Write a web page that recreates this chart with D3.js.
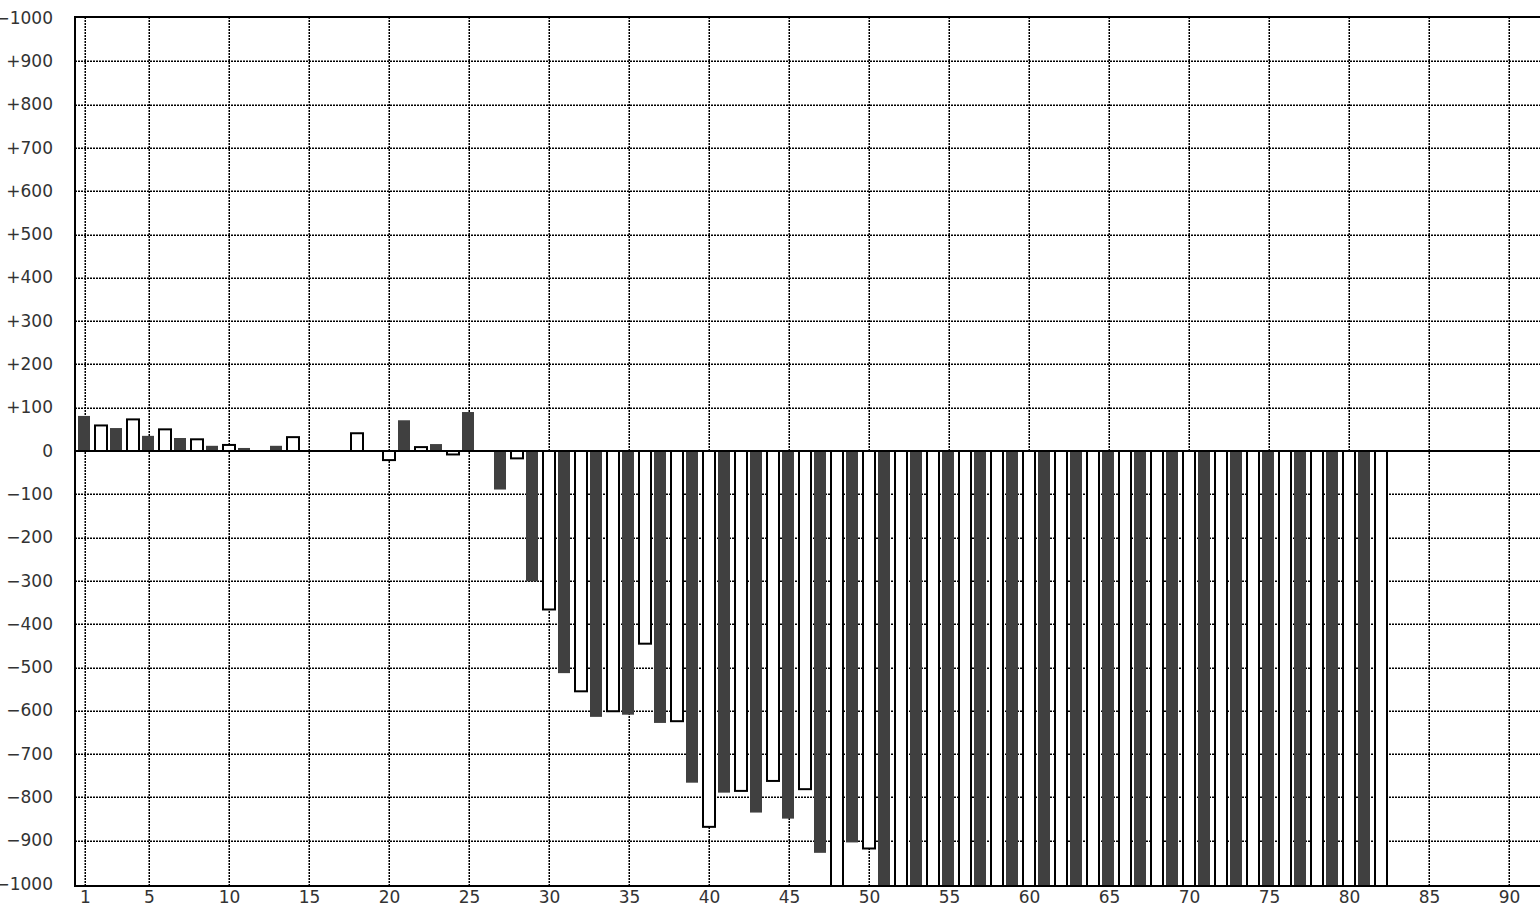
<!DOCTYPE html>
<html>
<head>
<meta charset="utf-8">
<script src="https://cdn.jsdelivr.net/npm/d3@7"></script>
<style>
  html, body { margin: 0; padding: 0; background: #fff; overflow: hidden; }
  svg { display: block; }
  text { font-family: "DejaVu Sans", Verdana, sans-serif; font-size: 17px; fill: #333; }
</style>
</head>
<body>
<svg id="chart" width="1540" height="908"></svg>
<script>
// ---- data ----
const categories = d3.range(1, 83);
const values = [
  81, 59, 53, 73, 35, 50, 30, 27, 12, 14,
  7, null, 12, 32, null, null, null, 41, null, -21,
  71, 9, 16, -8, 90, null, -89, -17, -301, -366,
  -513, -555, -614, -601, -609, -445, -628, -624, -766, -868,
  -789, -785, -835, -762, -849, -781, -928, -1000, -904, -918,
  -1000, -1000, -1000, -1000, -1000, -1000, -1000, -1000, -1000, -1000,
  -1000, -1000, -1000, -1000, -1000, -1000, -1000, -1000, -1000, -1000,
  -1000, -1000, -1000, -1000, -1000, -1000, -1000, -1000, -1000, -1000,
  -1000, -1000
];
const xTicks = [1, 5, 10, 15, 20, 25, 30, 35, 40, 45, 50, 55, 60, 65, 70, 75, 80, 85, 90];
const yTicks = [1000, 900, 800, 700, 600, 500, 400, 300, 200, 100, 0,
  -100, -200, -300, -400, -500, -600, -700, -800, -900, -1000];
const yTickLabels = ["\u22121000", "+900", "+800", "+700", "+600", "+500", "+400", "+300", "+200", "+100", "0",
  "\u2212100", "\u2212200", "\u2212300", "\u2212400", "\u2212500", "\u2212600", "\u2212700", "\u2212800", "\u2212900", "\u22121000"];

// ---- layout ----
const W = 1540, H = 908;
const frame = { left: 75, top: 17, bottom: 886, right: 1560 };
const x = d3.scaleLinear().domain([0, 90]).range([69, 1509]);
const y = d3.scaleLinear().domain([-1000, 1000]).range([884, 18]);

const svg = d3.select("#chart");

svg.append("defs").append("clipPath").attr("id", "plotclip")
  .append("rect")
  .attr("x", frame.left).attr("y", frame.top)
  .attr("width", frame.right - frame.left).attr("height", frame.bottom - frame.top);

// gridlines
const grid = svg.append("g")
  .attr("stroke", "#000").attr("stroke-width", 1.5).attr("stroke-dasharray", "2,1");
grid.selectAll("line.v").data(xTicks).join("line").attr("class", "v")
  .attr("x1", d => Math.round(x(d)) + 0.25).attr("x2", d => Math.round(x(d)) + 0.25)
  .attr("y1", frame.top).attr("y2", frame.bottom);
grid.selectAll("line.h").data(yTicks.filter(d => d !== 0 && Math.abs(d) !== 1000)).join("line").attr("class", "h")
  .attr("x1", frame.left).attr("x2", W)
  .attr("y1", d => Math.round(y(d)) + 0.25).attr("y2", d => Math.round(y(d)) + 0.25);

// bars
const barData = categories.map((c, i) => ({ c, v: values[i] })).filter(d => d.v !== null);
const bars = svg.append("g").attr("clip-path", "url(#plotclip)");
const y0 = y(0);
const bottomOf = v => (v <= -1000 ? frame.bottom + 4 : y(v));
bars.selectAll("rect").data(barData).join("rect")
  .attr("x", d => d.c % 2 ? x(d.c) - 7 : x(d.c) - 6)
  .attr("width", 12)
  .attr("y", d => d.v >= 0 ? y(d.v) : y0)
  .attr("height", d => Math.abs((d.v >= 0 ? y(d.v) : bottomOf(d.v)) - y0))
  .attr("fill", d => d.c % 2 ? "#404040" : "#fff")
  .attr("stroke", d => d.c % 2 ? "none" : "#000")
  .attr("stroke-width", 2);

// zero line and frame
const lines = svg.append("g").attr("stroke", "#000").attr("stroke-width", 2);
lines.append("line").attr("x1", frame.left).attr("x2", W).attr("y1", y0).attr("y2", y0);
lines.append("line").attr("x1", frame.left - 1).attr("x2", W).attr("y1", frame.top).attr("y2", frame.top);
lines.append("line").attr("x1", frame.left - 1).attr("x2", W).attr("y1", frame.bottom).attr("y2", frame.bottom);
lines.append("line").attr("x1", frame.left).attr("x2", frame.left).attr("y1", frame.top - 1).attr("y2", frame.bottom + 1);

// y labels
svg.append("g").selectAll("text").data(yTicks).join("text")
  .attr("x", 53)
  .attr("y", d => y(d))
  .attr("dy", "0.33em")
  .attr("text-anchor", "end")
  .text((d, i) => yTickLabels[i]);

// x labels
svg.append("g").selectAll("text").data(xTicks).join("text")
  .attr("x", d => x(d) + 0.5)
  .attr("y", 903)
  .attr("text-anchor", "middle")
  .text(d => d);
</script>
</body>
</html>
